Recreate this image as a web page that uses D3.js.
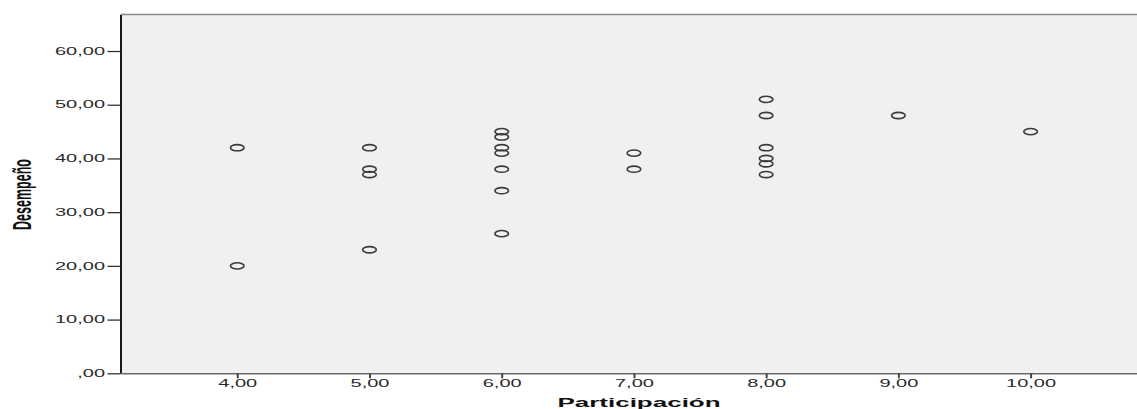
<!DOCTYPE html>
<html><head><meta charset="utf-8">
<script src="https://cdn.jsdelivr.net/npm/d3@7"></script>
<style>
html,body{margin:0;padding:0;background:#fff;}
svg{display:block;}
text{font-family:"Liberation Sans",Arial,sans-serif;}
</style></head>
<body>
<svg id="chart" width="1137" height="409"></svg>
<script>
// Data (Participación, Desempeño)
const participacion = [4,4, 5,5,5,5, 6,6,6,6,6,6,6, 7,7, 8,8,8,8,8,8, 9, 10];
const desempeno     = [42,20, 42,38,37,23, 45,44,42,41,38,34,26, 41,38, 51,48,42,40,39,37, 48, 45];
const xTicks = [4,5,6,7,8,9,10];
const xTickLabels = ["4,00","5,00","6,00","7,00","8,00","9,00","10,00"];
const yTicks = [0,10,20,30,40,50,60];
const yTickLabels = [",00","10,00","20,00","30,00","40,00","50,00","60,00"];
const xDomain = [3.117, 10.956];
const yDomain = [0, 66.8];

const svg = d3.select("#chart");
const L = 120.5, R = 1157, T = 14.5, B = 373.3;
const SX = 2; // horizontal stretch of the original rendering

const x = d3.scaleLinear().domain(xDomain).range([L, R]);
const y = d3.scaleLinear().domain(yDomain).range([B, T]);

// plot background
svg.append("rect").attr("x", L).attr("y", T).attr("width", R - L).attr("height", B - T).attr("fill", "#f0f0f0");
// top border
svg.append("line").attr("x1", L).attr("x2", R).attr("y1", T).attr("y2", T).attr("stroke", "#8a8a8a").attr("stroke-width", 1.5);

// y axis
const yAxis = svg.append("g").attr("transform", `translate(${L},0)`)
  .call(d3.axisLeft(y).tickValues(yTicks).tickSize(13).tickSizeOuter(0).tickFormat((d, i) => yTickLabels[i]));
yAxis.select(".domain").attr("stroke", "#1a1a1a").attr("stroke-width", 2);
yAxis.selectAll(".tick line").attr("stroke", "#333").attr("stroke-width", 1.3);
yAxis.selectAll(".tick text")
  .attr("x", null)
  .attr("transform", `translate(-15.5,0) scale(${SX},1)`)
  .attr("fill", "#2a2a2a").style("font-size", "10px");

// x axis
const xAxis = svg.append("g").attr("transform", `translate(0,${B})`)
  .call(d3.axisBottom(x).tickValues(xTicks).tickSize(5).tickSizeOuter(0).tickFormat((d, i) => xTickLabels[i]));
xAxis.select(".domain").attr("stroke", "#6a6a6a").attr("stroke-width", 1.5);
xAxis.selectAll(".tick line").attr("stroke", "#444").attr("stroke-width", 2);
xAxis.selectAll(".tick text")
  .attr("y", 14.2).attr("dy", null)
  .attr("transform", `scale(${SX},1)`)
  .attr("x", 0)
  .attr("fill", "#2a2a2a").style("font-size", "10px");

// points
svg.append("g").selectAll("ellipse")
  .data(participacion.map((p, i) => ({p, d: desempeno[i]})))
  .join("ellipse")
  .attr("cx", d => x(d.p)).attr("cy", d => y(d.d))
  .attr("rx", 6.8).attr("ry", 3.1)
  .attr("fill", "none").attr("stroke", "#3a3a3a").attr("stroke-width", 1.6);

// axis titles
svg.append("text")
  .attr("transform", `translate(639,407) scale(${SX},1)`)
  .attr("text-anchor", "middle")
  .style("font-size", "13px").style("font-weight", "bold").attr("fill", "#111")
  .text("Participación");

svg.append("text")
  .attr("transform", `translate(31,194.5) scale(${SX},1) rotate(-90)`)
  .attr("text-anchor", "middle")
  .style("font-size", "12.5px").style("font-weight", "bold").attr("fill", "#111")
  .text("Desempeño");
</script>
</body></html>
